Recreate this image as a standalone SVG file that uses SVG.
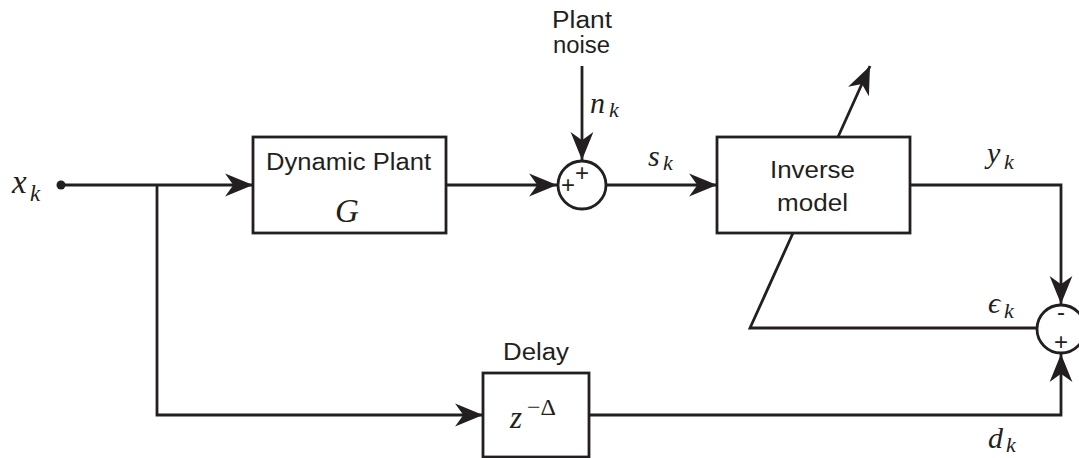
<svg xmlns="http://www.w3.org/2000/svg" width="1079" height="458" viewBox="0 0 1079 458">
<style>
.ln{fill:none;stroke:#231f20;stroke-width:2.8;stroke-linejoin:miter}
.bx{fill:#fff;stroke:#231f20;stroke-width:2.8}
.sn{font-family:"Liberation Sans",Arial,sans-serif;font-size:23px;fill:#231f20}
.m{font-family:"Liberation Serif","Times New Roman",serif;font-style:italic;fill:#231f20}
.sg{font-family:"Liberation Sans",Arial,sans-serif;fill:#231f20;text-anchor:middle}
</style>
<defs>
<marker id="ar" markerUnits="userSpaceOnUse" markerWidth="30" markerHeight="26" viewBox="-28 -12 29 24" refX="0" refY="0" orient="auto">
<path d="M0,0 L-27,-11 L-19,0 L-27,11 Z" fill="#231f20"/>
</marker>
</defs>
<g id="connectors">
<path class="ln" d="M61,185 H253" marker-end="url(#ar)"/>
<path class="ln" d="M157,185 V415 H483" marker-end="url(#ar)"/>
<path class="ln" d="M446,185 H557" marker-end="url(#ar)"/>
<path class="ln" d="M582,66 V160" marker-end="url(#ar)"/>
<path class="ln" d="M607,185 H717" marker-end="url(#ar)"/>
<path class="ln" d="M910,185 H1061 V304" marker-end="url(#ar)"/>
<path class="ln" d="M589,415 H1061 V354" marker-end="url(#ar)"/>
<path class="ln" d="M793,233 L750,328 H1037"/>
<path class="ln" d="M838,137 L870,66" marker-end="url(#ar)"/>
<circle cx="61" cy="185" r="4.5" fill="#231f20"/>
</g>
<g id="input-label">
<text class="m" x="12" y="193" font-size="33">x</text>
<text class="m" x="30" y="201" font-size="23">k</text>
</g>
<g id="plant">
<rect class="bx" x="253" y="137" width="193" height="96"/>
<text class="sn" x="266" y="170" textLength="165" lengthAdjust="spacingAndGlyphs">Dynamic Plant</text>
<text class="m" x="347" y="222" font-size="33" text-anchor="middle">G</text>
</g>
<g id="noise">
<text class="sn" x="552" y="28" textLength="60" lengthAdjust="spacingAndGlyphs">Plant</text>
<text class="sn" x="553" y="53" textLength="57" lengthAdjust="spacingAndGlyphs">noise</text>
<text class="m" x="590" y="113" font-size="30">n</text>
<text class="m" x="609" y="117" font-size="22">k</text>
</g>
<g id="sum1">
<circle class="bx" cx="582" cy="185" r="24"/>
<text class="sg" x="582" y="181" font-size="24">+</text>
<text class="sg" x="568" y="193" font-size="24">+</text>
</g>
<g id="s-label">
<text class="m" x="648" y="166" font-size="30">s</text>
<text class="m" x="663" y="170" font-size="22">k</text>
</g>
<g id="inverse">
<rect class="bx" x="717" y="137" width="193" height="96"/>
<text class="sn" x="770" y="178" textLength="85" lengthAdjust="spacingAndGlyphs">Inverse</text>
<text class="sn" x="777" y="211" textLength="71" lengthAdjust="spacingAndGlyphs">model</text>
</g>
<g id="y-label">
<text class="m" x="987" y="163" font-size="30">y</text>
<text class="m" x="1004" y="169" font-size="22">k</text>
</g>
<g id="e-label">
<text class="m" x="988" y="313" font-size="30">ϵ</text>
<text class="m" x="1004" y="318" font-size="22">k</text>
</g>
<g id="sum2">
<circle class="bx" cx="1061" cy="329" r="24"/>
<text class="sg" x="1061" y="320" font-size="24">-</text>
<text class="sg" x="1061" y="350" font-size="24">+</text>
</g>
<g id="delay">
<text class="sn" x="503" y="360" textLength="66" lengthAdjust="spacingAndGlyphs">Delay</text>
<rect class="bx" x="483" y="373" width="106" height="84"/>
<text class="m" x="510" y="428" font-size="31">z</text>
<text x="527" y="415" font-family="Liberation Serif,serif" font-size="24" fill="#231f20">−Δ</text>
</g>
<g id="d-label">
<text class="m" x="988" y="448" font-size="30">d</text>
<text class="m" x="1006" y="452" font-size="22">k</text>
</g>
</svg>
